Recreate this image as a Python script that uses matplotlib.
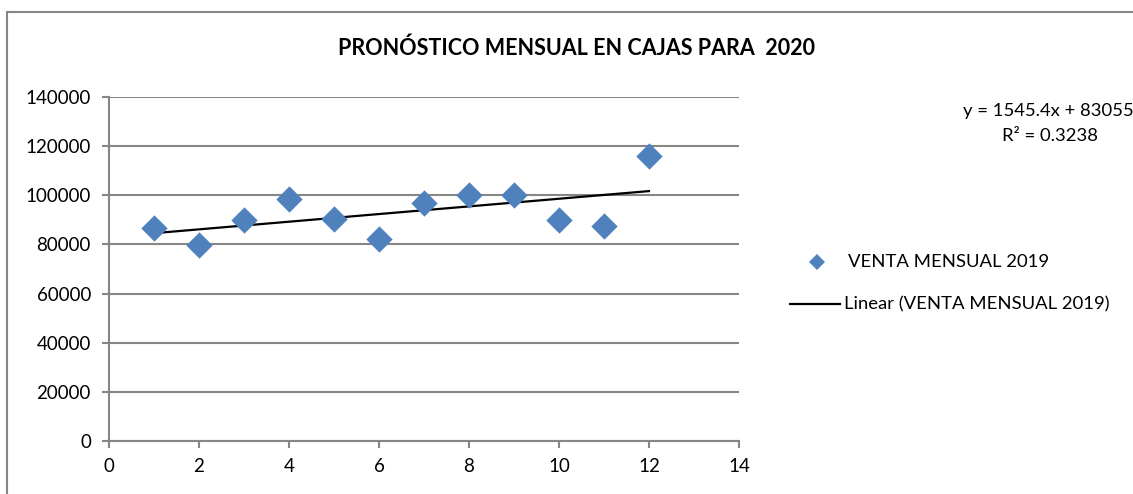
import numpy as np
import matplotlib
matplotlib.use("Agg")
import matplotlib.pyplot as plt
from matplotlib.patches import Rectangle
from matplotlib.lines import Line2D

months = [1, 2, 3, 4, 5, 6, 7, 8, 9, 10, 11, 12]
ventas = [86500, 79800, 89800, 98600, 90300, 82300, 96900, 100100, 100100, 89800, 87500, 116000]
series_label = "VENTA MENSUAL 2019"
trend_label = "Linear (VENTA MENSUAL 2019)"
title = "PRONÓSTICO MENSUAL EN CAJAS PARA  2020"
eq_text = "y = 1545.4x + 83055"
r2_text = "R² = 0.3238"
xticks = [0, 2, 4, 6, 8, 10, 12, 14]
yticks = [0, 20000, 40000, 60000, 80000, 100000, 120000, 140000]

plt.rcParams['font.family'] = ['Lato', 'DejaVu Sans']

W, H = 1133, 494
fig = plt.figure(figsize=(W / 100, H / 100), dpi=100)
ax = fig.add_axes([109 / W, 1 - 441 / H, (739 - 109) / W, (441 - 97) / H])

grey = "#868686"
blue = "#4F81BD"

x = np.array(months, dtype=float)
y = np.array(ventas, dtype=float)
slope, intercept = np.polyfit(x, y, 1)
xl = np.array([x.min(), x.max()])

ax.plot(xl, slope * xl + intercept, color="black", lw=1.6, zorder=3)
ax.scatter(x, y, marker="D", s=180, color=blue, zorder=4, linewidths=0)

ax.set_xlim(0, 14)
ax.set_ylim(0, 140000)
ax.set_xticks(xticks)
ax.set_yticks(yticks)
ax.set_xticklabels([str(t) for t in xticks])
ax.set_yticklabels([str(t) for t in yticks])
ax.grid(axis="y", color=grey, lw=1.5)
ax.set_axisbelow(True)
for s in ["top", "right"]:
    ax.spines[s].set_visible(False)
for s in ["left", "bottom"]:
    ax.spines[s].set_color(grey)
    ax.spines[s].set_linewidth(1.5)
ax.tick_params(axis="both", colors=grey, length=5, width=1.5, labelsize=13.5, labelcolor="black")
ax.tick_params(axis="x", pad=7)
ax.tick_params(axis="y", pad=8)

fig.text(576 / W, 1 - 48 / H, title, ha="center", va="center", fontsize=15.5, fontweight="bold")
fig.text(963 / W, 1 - 111 / H, eq_text, ha="left", va="center", fontsize=13.3)
fig.text(1050 / W, 1 - 136 / H, r2_text, ha="center", va="center", fontsize=13.3)

# legend
fig.lines.append(Line2D([817 / W], [1 - 262 / H], marker="D", markersize=8, color=blue, lw=0,
                        transform=fig.transFigure, markeredgewidth=0))
fig.text(848 / W, 1 - 262 / H, series_label, ha="left", va="center", fontsize=13.3)
fig.lines.append(Line2D([790 / W, 840 / W], [1 - 304 / H, 1 - 304 / H], color="black", lw=1.6,
                        transform=fig.transFigure))
fig.text(844 / W, 1 - 304 / H, trend_label, ha="left", va="center", fontsize=13.3)

# chart border
fig.patches.append(Rectangle((7 / W, -0.1), 1.2, 1 - 12 / H + 0.1, transform=fig.transFigure,
                             fill=False, edgecolor=grey, lw=1.5))

fig.savefig("out.png", dpi=100)
